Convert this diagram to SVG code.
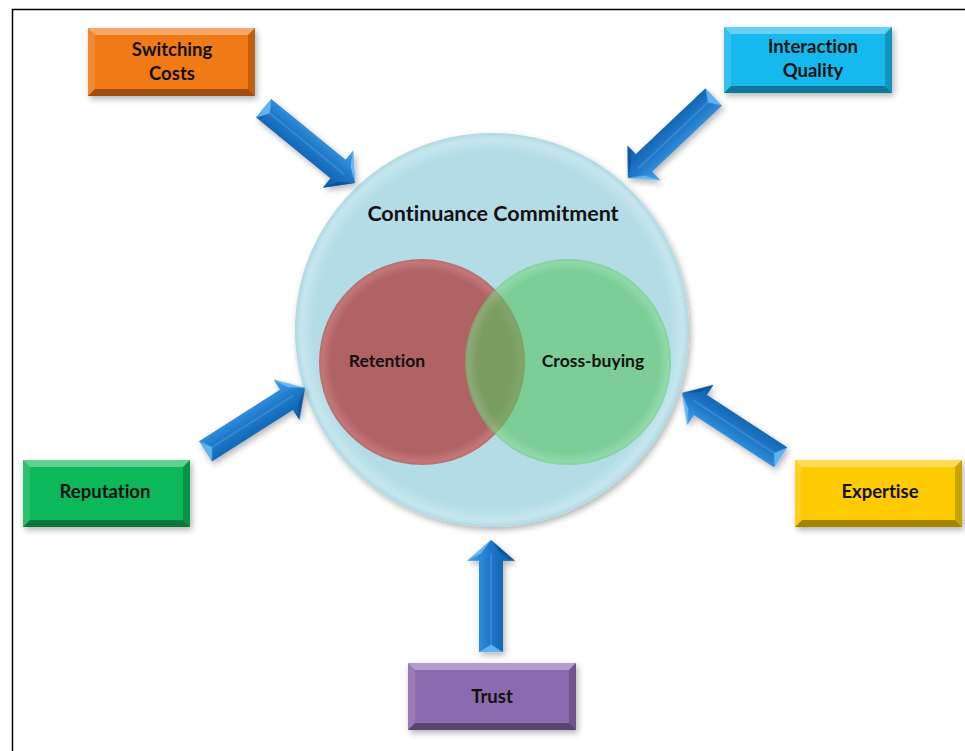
<svg xmlns="http://www.w3.org/2000/svg" xmlns:xlink="http://www.w3.org/1999/xlink" width="965" height="751" viewBox="0 0 965 751">
  <defs>
    <style>
      .lbl { font-family: Lato, "Open Sans", "Liberation Sans", sans-serif; font-weight: bold; fill: #111; text-anchor: middle; font-variant-ligatures: none; }
      .box-lbl { font-size: 18.5px; }
      .venn-lbl { font-size: 17.5px; }
      .title { font-size: 21.5px; }
      .hi { fill: #ffffff; opacity: 0.35; }
      .side { fill: #ffffff; opacity: 0.12; }
      .lo { fill: #000000; opacity: 0.35; }
      .rside { fill: #000000; opacity: 0.2; }
    </style>

    <!-- shaded shaft / head of the 3D arrows -->
    <linearGradient id="arrowBody" x1="0" y1="0" x2="0" y2="1">
      <stop offset="0" stop-color="#4aa3e8"/>
      <stop offset="0.45" stop-color="#1f7acb"/>
      <stop offset="1" stop-color="#0c58a3"/>
    </linearGradient>

    <filter id="softShadow" x="-20%" y="-20%" width="140%" height="140%">
      <feGaussianBlur in="SourceAlpha" stdDeviation="3"/>
      <feOffset dx="2" dy="3"/>
      <feComponentTransfer><feFuncA type="linear" slope="0.3"/></feComponentTransfer>
      <feMerge><feMergeNode/><feMergeNode in="SourceGraphic"/></feMerge>
    </filter>

    <radialGradient id="bigDisc" cx="0.5" cy="0.5" r="0.5">
      <stop offset="0.9" stop-color="#b3dce6"/>
      <stop offset="0.97" stop-color="#c6e6ee"/>
      <stop offset="1" stop-color="#b0d8e2"/>
    </radialGradient>
    <radialGradient id="redDisc" cx="0.5" cy="0.5" r="0.5">
      <stop offset="0.88" stop-color="#b06264"/>
      <stop offset="0.97" stop-color="#c27778"/>
      <stop offset="1" stop-color="#b86b6d"/>
    </radialGradient>
    <radialGradient id="greenDisc" cx="0.5" cy="0.5" r="0.5">
      <stop offset="0.88" stop-color="#56c460"/>
      <stop offset="0.97" stop-color="#7ad684"/>
      <stop offset="1" stop-color="#62c86c"/>
    </radialGradient>

    <!-- block arrow, tip at origin pointing along +x -->
    <g id="arrow">
      <polygon points="-118,-12 -22,-12 -22,-24 0,0 -22,24 -22,12 -118,12" fill="url(#arrowBody)"/>
      <!-- tail bevel -->
      <polygon points="-118,-12 -110,0 -118,12" fill="#5fb4f0"/>
      <!-- head bevels -->
      <polygon points="-22,-24 -14,-10 0,0" fill="#6cc0f5" opacity="0.9"/>
      <polygon points="-22,24 -14,10 0,0" fill="#0a4f95" opacity="0.8"/>
      <line x1="-110" y1="0" x2="-14" y2="0" stroke="#ffffff" stroke-opacity="0.12" stroke-width="2"/>
    </g>
  </defs>

  <rect width="965" height="751" fill="#ffffff"/>
  <!-- frame -->
  <path d="M12.5,751 V9.5 H965" fill="none" stroke="#000" stroke-width="1.5"/>

  <!-- central disc with the Venn pair -->
  <g id="continuance-commitment">
    <circle cx="492" cy="330" r="197" fill="url(#bigDisc)" filter="url(#softShadow)"/>
    <text class="lbl title" x="493" y="221">Continuance Commitment</text>
  </g>
  <g id="retention">
    <circle cx="422" cy="362" r="103" fill="url(#redDisc)"/>
    <text class="lbl venn-lbl" x="387" y="367">Retention</text>
  </g>
  <g id="cross-buying">
    <circle cx="568" cy="362" r="103" fill="url(#greenDisc)" fill-opacity="0.6"/>
    <text class="lbl venn-lbl" x="593" y="367">Cross-buying</text>
  </g>

  <!-- factor boxes -->
  <g id="switching-costs">
    <rect x="88" y="28" width="167" height="68" fill="#f07a14" filter="url(#softShadow)"/>
    <polygon class="hi" points="88,28 255,28 248,35 95,35"/>
    <polygon class="side" points="88,28 95,35 95,89 88,96"/>
    <polygon class="lo" points="88,96 95,89 248,89 255,96"/>
    <polygon class="rside" points="255,28 248,35 248,89 255,96"/>
    <text class="lbl box-lbl" x="172" y="56">Switching</text>
    <text class="lbl box-lbl" x="172" y="80">Costs</text>
  </g>

  <g id="interaction-quality">
    <rect x="724" y="27" width="168" height="66" fill="#14b9ee" filter="url(#softShadow)"/>
    <polygon class="hi" points="724,27 892,27 885,34 731,34"/>
    <polygon class="side" points="724,27 731,34 731,86 724,93"/>
    <polygon class="lo" points="724,93 731,86 885,86 892,93"/>
    <polygon class="rside" points="892,27 885,34 885,86 892,93"/>
    <text class="lbl box-lbl" x="813" y="53">Interaction</text>
    <text class="lbl box-lbl" x="813" y="77">Quality</text>
  </g>

  <g id="reputation">
    <rect x="23" y="460" width="167" height="67" fill="#10b85a" filter="url(#softShadow)"/>
    <polygon class="hi" points="23,460 190,460 183,467 30,467"/>
    <polygon class="side" points="23,460 30,467 30,520 23,527"/>
    <polygon class="lo" points="23,527 30,520 183,520 190,527"/>
    <polygon class="rside" points="190,460 183,467 183,520 190,527"/>
    <text class="lbl box-lbl" x="105" y="498">Reputation</text>
  </g>

  <g id="expertise">
    <rect x="795" y="460" width="167" height="67" fill="#fecb00" filter="url(#softShadow)"/>
    <polygon class="hi" points="795,460 962,460 955,467 802,467"/>
    <polygon class="side" points="795,460 802,467 802,520 795,527"/>
    <polygon class="lo" points="795,527 802,520 955,520 962,527"/>
    <polygon class="rside" points="962,460 955,467 955,520 962,527"/>
    <text class="lbl box-lbl" x="880" y="498">Expertise</text>
  </g>

  <g id="trust">
    <rect x="408" y="663" width="168" height="67" fill="#8b6bae" filter="url(#softShadow)"/>
    <polygon class="hi" points="408,663 576,663 569,670 415,670"/>
    <polygon class="side" points="408,663 415,670 415,723 408,730"/>
    <polygon class="lo" points="408,730 415,723 569,723 576,730"/>
    <polygon class="rside" points="576,663 569,670 569,723 576,730"/>
    <text class="lbl box-lbl" x="492" y="703">Trust</text>
  </g>

  <!-- arrows pointing at the central disc -->
  <g id="connectors" filter="url(#softShadow)">
    <use xlink:href="#arrow" transform="translate(355,183) rotate(39.3)"/>
    <use xlink:href="#arrow" transform="translate(628,178) rotate(136.6)"/>
    <use xlink:href="#arrow" transform="translate(305,388) rotate(-32.5)"/>
    <use xlink:href="#arrow" transform="translate(682,393) rotate(-146.9)"/>
    <use xlink:href="#arrow" transform="translate(491,540) rotate(-90) scale(0.95,1)"/>
  </g>
</svg>
